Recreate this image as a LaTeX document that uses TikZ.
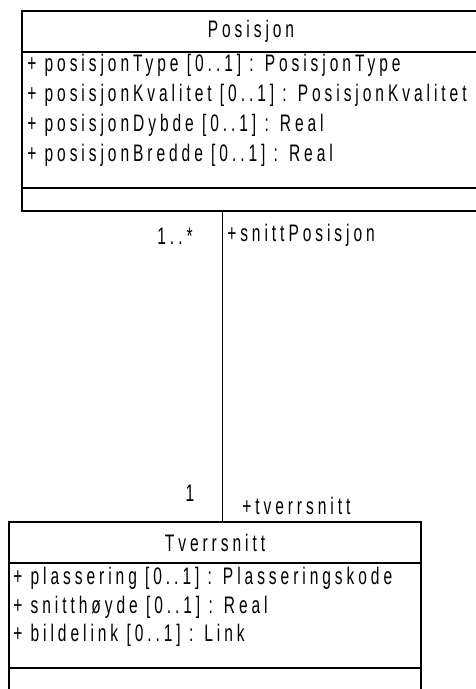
\documentclass[tikz,border=0pt]{standalone}
\usepackage{fontspec}
\newfontfamily\umlfont[FakeStretch=0.65, LetterSpace=16.5]{Liberation Sans}
\usetikzlibrary{positioning}
\tikzset{
    uml text/.style={font=\umlfont\fontsize{17pt}{19pt}\selectfont, inner sep=0pt},
    compartment/.style={draw=black, line width=0.9pt, rectangle,
        anchor=north west, inner sep=0pt, outer sep=0pt},
    class name/.style={compartment, uml text},
    attribute/.style={uml text, anchor=west},
    role label/.style={uml text, anchor=west},
    mult label/.style={uml text},
    assoc/.style={draw=black, line width=0.7pt},
}

\begin{document}
\begin{tikzpicture}

\clip (0, 0) rectangle (11.90, 17.225);
\useasboundingbox (0, 0) rectangle (11.90, 17.225);

% ===== POSISJON =====
\node[class name, minimum width=11.45cm, minimum height=1.025cm] (posisjonName) at (0.55, 16.95) {Posisjon};
\node[compartment, minimum width=11.45cm, minimum height=3.40cm] (posisjonAttr) at (posisjonName.south west) {};
\node[compartment, minimum width=11.45cm, minimum height=0.575cm] (posisjonOps) at (posisjonAttr.south west) {};
\node[attribute] (posType) at (0.675, 15.60) {+ posisjonType [0..1] : PosisjonType};
\node[attribute] (posKval) at (0.675, 14.85) {+ posisjonKvalitet [0..1] : PosisjonKvalitet};
\node[attribute] (posDybde) at (0.675, 14.10) {+ posisjonDybde [0..1] : Real};
\node[attribute] (posBredde) at (0.675, 13.35) {+ posisjonBredde [0..1] : Real};

% ===== TVERRSNITT =====
\node[class name, minimum width=10.30cm, minimum height=1.025cm] (tverrsnittName) at (0.225, 4.175) {Tverrsnitt};
\node[compartment, minimum width=10.30cm, minimum height=2.625cm] (tverrsnittAttr) at (tverrsnittName.south west) {};
\node[compartment, minimum width=10.30cm, minimum height=0.90cm] (tverrsnittOps) at (tverrsnittAttr.south west) {};
\node[attribute] (plassering) at (0.325, 2.775) {+ plassering [0..1] : Plasseringskode};
\node[attribute] (snitthoyde) at (0.325, 2.05) {+ snitthøyde [0..1] : Real};
\node[attribute] (bildelink) at (0.325, 1.35) {+ bildelink [0..1] : Link};

% ===== ASSOCIATION =====
\coordinate (assocTop) at (5.55, 11.95);
\draw[assoc] (assocTop) -- (assocTop |- tverrsnittName.north);
\node[mult label] (multTop) at (4.375, 11.325) {1..*};
\node[role label] (roleTop) at (5.675, 11.35) {+snittPosisjon};
\node[mult label] (multBottom) at (4.75, 4.90) {1};
\node[role label] (roleBottom) at (6.05, 4.575) {+tverrsnitt};

\end{tikzpicture}
\end{document}
